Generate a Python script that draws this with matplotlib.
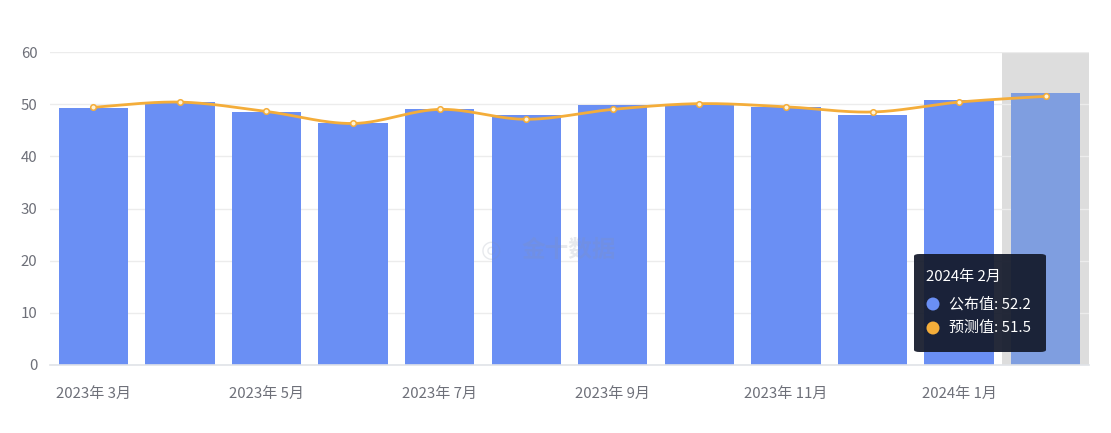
import numpy as np
import matplotlib
matplotlib.use("Agg")
import matplotlib.pyplot as plt
from matplotlib.patches import FancyBboxPatch, Ellipse

plt.rcParams['font.family'] = ['Noto Sans CJK SC', 'DejaVu Sans']

categories = ["2023年 3月", "2023年 4月", "2023年 5月", "2023年 6月", "2023年 7月", "2023年 8月",
              "2023年 9月", "2023年 10月", "2023年 11月", "2023年 12月", "2024年 1月", "2024年 2月"]
published = [49.2, 50.4, 48.5, 46.3, 49.0, 47.9, 49.8, 49.9, 49.5, 48.0, 50.8, 52.2]
forecast = [49.4, 50.4, 48.6, 46.3, 49.0, 47.1, 49.0, 50.1, 49.5, 48.5, 50.4, 51.5]
yticks = [0, 10, 20, 30, 40, 50, 60]

BAR = '#6a8ff4'
BAR_HL = '#7f9ee0'
LINE = '#f4ad3a'
GRID = '#ececec'
TXT = '#6e7079'
FS = 10.8

W, H = 1111, 433
fig = plt.figure(figsize=(W/100, H/100), dpi=100)
ax = fig.add_axes([50/W, 68/H, 1039/W, 313/H])

n = len(categories)
x = np.arange(n)
ax.set_xlim(-0.5, n - 0.5)
ax.set_ylim(0, 60)

# highlight band on last category
ax.axvspan(n - 1.5, n - 0.5, color='#dddddd', zorder=0.5, lw=0)

colors = [BAR] * (n - 1) + [BAR_HL]
ax.bar(x, published, width=0.8, color=colors, zorder=2)

# smooth curve (Catmull-Rom through the data points)
def catmull(xs, ys, steps=30, t=0.5):
    px = np.concatenate([[xs[0]], xs, [xs[-1]]])
    py = np.concatenate([[ys[0]], ys, [ys[-1]]])
    ox, oy = [], []
    for i in range(1, len(px) - 2):
        p0 = np.array([px[i-1], py[i-1]]); p1 = np.array([px[i], py[i]])
        p2 = np.array([px[i+1], py[i+1]]); p3 = np.array([px[i+2], py[i+2]])
        m1 = t * (p2 - p0)
        m2 = t * (p3 - p1)
        s = np.linspace(0, 1, steps, endpoint=(i == len(px) - 3))
        h00 = 2*s**3 - 3*s**2 + 1
        h10 = s**3 - 2*s**2 + s
        h01 = -2*s**3 + 3*s**2
        h11 = s**3 - s**2
        pts = np.outer(h00, p1) + np.outer(h10, m1) + np.outer(h01, p2) + np.outer(h11, m2)
        ox.extend(pts[:, 0]); oy.extend(pts[:, 1])
    return np.array(ox), np.array(oy)

cx, cy = catmull(x.astype(float), np.array(forecast, dtype=float))
ax.plot(cx, cy, color=LINE, lw=2, zorder=3, solid_capstyle='round')
ax.scatter(x, forecast, s=16, facecolor='#fff3d6', edgecolor=LINE, linewidth=1.1, zorder=4)

# grid & axes
ax.set_yticks(yticks)
ax.yaxis.grid(True, color=GRID, lw=1, zorder=0)
ax.set_axisbelow(True)
for s in ['top', 'right', 'left']:
    ax.spines[s].set_visible(False)
ax.spines['bottom'].set_color('#e0e3e8')
ax.spines['bottom'].set_linewidth(1.2)
ax.tick_params(axis='y', length=0, labelsize=FS, labelcolor=TXT, pad=9)
ax.set_xticks(x[::2])
ax.set_xticklabels(categories[::2])
ax.tick_params(axis='x', length=0, labelsize=FS, labelcolor=TXT, pad=16)

# watermark (faint, over the bars)
fig.text(491/W, 1 - 250/H, "◎", fontsize=17, color='#8a94a6', alpha=0.2,
         ha='center', va='center', zorder=5, family='DejaVu Sans', fontweight='bold')
fig.text(569/W, 1 - 250/H, "金十数据", fontsize=17, color='#8a94a6', alpha=0.2,
         ha='center', va='center', fontweight='bold', zorder=5)

# tooltip
tx0, ty0, tw, th = 914, 254, 132, 98
box = FancyBboxPatch((tx0/W, 1 - (ty0 + th)/H), tw/W, th/H,
                     boxstyle="round,pad=0,rounding_size=0.005",
                     transform=fig.transFigure, facecolor='#141a2b', alpha=0.93,
                     edgecolor='none', zorder=10)
fig.patches.append(box)
fig.text(926/W, 1 - 277/H, categories[-1], color='white', fontsize=FS,
         va='center', ha='left', zorder=11)
for yy, col, lab, v in [(304, BAR, "公布值", published[-1]), (328, LINE, "预测值", forecast[-1])]:
    fig.patches.append(Ellipse((933/W, 1 - yy/H), 13/W, 13/H, transform=fig.transFigure,
                               facecolor=col, edgecolor='none', zorder=11))
    fig.text(949/W, 1 - yy/H, f"{lab}: {v}", color='white', fontsize=FS,
             va='center', ha='left', zorder=11)

fig.savefig("out.png", dpi=100)
